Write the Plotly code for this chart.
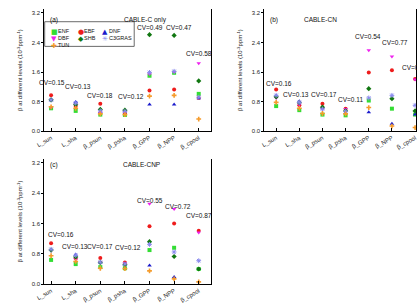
import plotly.graph_objects as go

categories = ["L_sun", "L_sha", "β_psun", "β_psha", "β_GPP", "β_NPP", "β_cpool"]
pfts = ["ENF", "EBF", "DNF", "DBF", "SHB", "C3GRAS", "TUN"]

# Panel (a) CABLE-C only
a_ENF = [0.62, 0.55, 0.45, 0.44, 1.50, 1.58, 1.01]
a_EBF = [0.97, 0.68, 0.74, 0.50, 1.10, 1.13, 0.90]
a_DNF = [0.84, 0.79, 0.52, 0.53, 0.72, 0.72, 0.89]
a_DBF = [0.64, 0.72, 0.50, 0.50, 1.55, 1.60, 1.84]
a_SHB = [0.85, 0.72, 0.59, 0.57, 2.61, 2.59, 1.36]
a_C3GRAS = [0.85, 0.76, 0.55, 0.54, 1.59, 1.62, 0.92]
a_TUN = [0.66, 0.62, 0.47, 0.45, 0.95, 0.97, 0.33]
a_CV = [0.15, 0.13, 0.18, 0.12, 0.49, 0.47, 0.58]

# Panel (b) CABLE-CN
b_ENF = [0.68, 0.57, 0.45, 0.43, 0.83, 0.61, 0.45]
b_EBF = [1.13, 0.70, 0.74, 0.61, 1.59, 1.65, 1.41]
b_DNF = [0.95, 0.81, 0.65, 0.50, 0.51, 0.20, 0.45]
b_DBF = [0.90, 0.72, 0.60, 0.60, 2.19, 2.02, 1.40]
b_SHB = [0.93, 0.77, 0.65, 0.55, 1.15, 0.88, 0.55]
b_C3GRAS = [0.97, 0.78, 0.60, 0.53, 0.90, 0.97, 0.70]
b_TUN = [0.78, 0.62, 0.48, 0.47, 0.64, 0.14, 0.10]
b_CV = [0.16, 0.13, 0.17, 0.11, 0.54, 0.77, 0.85]

# Panel (c) CABLE-CNP
c_ENF = [0.64, 0.53, 0.45, 0.42, 0.90, 0.96, 0.40]
c_EBF = [1.08, 0.68, 0.69, 0.57, 1.53, 1.60, 1.41]
c_DNF = [0.90, 0.78, 0.57, 0.51, 0.49, 0.19, 0.40]
c_DBF = [0.88, 0.65, 0.58, 0.55, 2.12, 1.98, 1.36]
c_SHB = [0.90, 0.72, 0.57, 0.51, 1.12, 0.73, 0.40]
c_C3GRAS = [0.92, 0.76, 0.58, 0.53, 1.05, 0.85, 0.62]
c_TUN = [0.75, 0.60, 0.42, 0.41, 0.35, 0.14, 0.06]
c_CV = [0.16, 0.13, 0.17, 0.12, 0.55, 0.72, 0.87]

panels = [
    dict(name="CABLE-C only", tag="(a)",
         series=[a_ENF, a_EBF, a_DNF, a_DBF, a_SHB, a_C3GRAS, a_TUN], cv=a_CV),
    dict(name="CABLE-CN", tag="(b)",
         series=[b_ENF, b_EBF, b_DNF, b_DBF, b_SHB, b_C3GRAS, b_TUN], cv=b_CV),
    dict(name="CABLE-CNP", tag="(c)",
         series=[c_ENF, c_EBF, c_DNF, c_DBF, c_SHB, c_C3GRAS, c_TUN], cv=c_CV),
]

# ---- styles / layout (not data) ----
W, H = 417, 303
FONT = "Liberation Sans, Arial, sans-serif"
colors = {"ENF": "#33dd33", "EBF": "#ee1c1c", "DNF": "#1a1acc", "DBF": "#ee22ee",
          "SHB": "#117711", "C3GRAS": "#8a8aee", "TUN": "#f59b2b"}
symbols = {"ENF": "square", "EBF": "circle", "DNF": "triangle-up", "DBF": "triangle-down",
           "SHB": "diamond", "C3GRAS": "asterisk-open", "TUN": "cross"}
glyphs = {"ENF": "■", "EBF": "●", "DNF": "▲", "DBF": "▼",
          "SHB": "◆", "C3GRAS": "✳", "TUN": "✚"}

# pixel boxes: (left, right, top, bottom), x-range, y-range
boxes = [
    dict(px=(37, 207, 9, 133), xr=[-0.28, 6.48], yr=[0, 3.307]),
    dict(px=(262, 417, 9, 133), xr=[-0.51, 6.04], yr=[0, 3.307]),
    dict(px=(37, 207, 161, 288), xr=[-0.28, 6.48], yr=[0, 3.304]),
]
# CV label positions (data y) and pixel shifts
cv_y = [[1.33, 1.20, 0.96, 0.93, 2.80, 2.80, 2.10],
        [1.28, 0.99, 0.99, 0.86, 2.57, 2.41, 1.73],
        [1.31, 0.99, 0.99, 0.96, 2.21, 2.06, 1.82]]
cv_dx = [[1, 2, 0, 6, 0, 5, 0],
         [3, -3, 2, 5, -1, 3, 0],
         [10, -1, 0, 3, 0, 4, 0]]
title_x = [118, 337, 117]

fig = go.Figure()
annotations = []
layout = {}
for i, (p, b) in enumerate(zip(panels, boxes)):
    n = "" if i == 0 else str(i + 1)
    xa, ya = "x" + n, "y" + n
    for name, vals in zip(pfts, p["series"]):
        fig.add_trace(go.Scatter(
            x=categories, y=vals, mode="markers", name=name, xaxis=xa, yaxis=ya,
            showlegend=False, cliponaxis=False,
            marker=dict(symbol=symbols[name], color=colors[name], size=4,
                        line=dict(width=1 if name == "C3GRAS" else 0, color=colors[name]))))
    l, r, t, btm = b["px"]
    layout["xaxis" + n] = dict(
        domain=[l / W, r / W], anchor=ya, type="category", range=b["xr"],
        showline=True, linecolor="black", linewidth=1, mirror=False,
        ticks="inside", ticklen=3, tickcolor="black", tickangle=-30,
        tickfont=dict(size=6, family=FONT, color="#222"), showgrid=False, zeroline=False)
    layout["yaxis" + n] = dict(
        domain=[1 - btm / H, 1 - t / H], anchor=xa, range=b["yr"],
        tickvals=[0, 0.8, 1.6, 2.4, 3.2], ticktext=["0.0", "0.8", "1.6", "2.4", "3.2"],
        showline=True, linecolor="black", linewidth=1, mirror=True,
        ticks="outside", ticklen=2, tickcolor="black",
        tickfont=dict(size=6, family=FONT, color="#222"), showgrid=False, zeroline=False,
        title=dict(text="β at different levels (10<sup>-3</sup>ppm<sup>-1</sup>)",
                   font=dict(size=6, family=FONT, color="#222"), standoff=8))
    # CV labels
    for j, cv in enumerate(p["cv"]):
        annotations.append(dict(
            x=categories[j], y=cv_y[i][j], xref=xa, yref=ya, text=f"CV={cv:.2f}",
            showarrow=False, xshift=cv_dx[i][j], borderpad=0,
            font=dict(size=6.5, family=FONT, color="#111")))
    # panel labels
    annotations.append(dict(x=(l + 5) / W, y=1 - (t + 6) / H, xref="paper", yref="paper",
                            text=p["tag"], showarrow=False, xanchor="left", borderpad=0,
                            font=dict(size=6.5, family=FONT, color="#111")))
    annotations.append(dict(x=title_x[i] / W, y=1 - (t + 6) / H, xref="paper", yref="paper",
                            text=p["name"], showarrow=False, borderpad=0,
                            font=dict(size=6.5, family=FONT, color="#111")))

# legend for panel (a), built from series names / styles
leg_cols = [(43, 50), (70.5, 77), (95, 102)]
leg_rows = [27.5, 34.5, 41.5]
for k, name in enumerate(pfts):
    rr, cc = divmod(k, 3)
    mx, tx = leg_cols[cc]
    yy = 1 - leg_rows[rr] / H
    annotations.append(dict(x=mx / W, y=yy, xref="paper", yref="paper", text=glyphs[name],
                            showarrow=False, borderpad=0,
                            font=dict(size=7, family="DejaVu Sans", color=colors[name])))
    annotations.append(dict(x=tx / W, y=yy, xref="paper", yref="paper", text=name,
                            showarrow=False, xanchor="left", borderpad=0,
                            font=dict(size=5.5, family=FONT, color="#111")))
shapes = [dict(type="rect", xref="paper", yref="paper", x0=37.5 / W, x1=129 / W,
               y0=1 - 47 / H, y1=1 - 22 / H, line=dict(color="#444", width=0.8))]

fig.update_layout(width=W, height=H, margin=dict(l=0, r=0, t=0, b=0),
                  paper_bgcolor="white", plot_bgcolor="white",
                  annotations=annotations, shapes=shapes, **layout)
fig.write_html("out.html")
